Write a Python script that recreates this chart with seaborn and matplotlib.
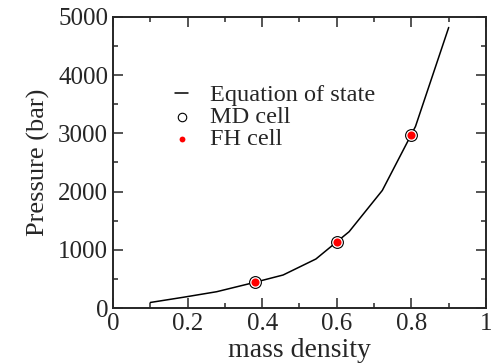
import matplotlib
matplotlib.use("Agg")
import matplotlib.pyplot as plt
import seaborn as sns
import pandas as pd
from matplotlib.ticker import MultipleLocator

# equation of state curve
eos_density = [0.100, 0.189, 0.278, 0.367, 0.456, 0.544, 0.633, 0.722, 0.811, 0.900]
eos_pressure = [95, 185, 280, 420, 567, 842, 1311, 2020, 3120, 4820]

# simulation cells
cell_density = [0.38, 0.60, 0.80]
md_pressure = [440, 1140, 2970]
fh_pressure = [440, 1140, 2970]

xticks = [0, 0.2, 0.4, 0.6, 0.8, 1.0]
xticklabels = ["0", "0.2", "0.4", "0.6", "0.8", "1"]
yticks = [0, 1000, 2000, 3000, 4000, 5000]
yticklabels = ["0", "1000", "2000", "3000", "4000", "5000"]


def main():
	sns.set_style("ticks")
	plt.rcParams['font.family'] = ['Liberation Serif', 'DejaVu Serif']

	eos = pd.DataFrame({'density': eos_density, 'pressure': eos_pressure})
	cells = pd.DataFrame({'density': cell_density, 'md': md_pressure, 'fh': fh_pressure})

	fig = plt.figure(figsize=(4.93, 3.63), dpi=100)
	ax = fig.add_axes([0.2292, 0.1515, 0.7566, 0.8017])

	sns.lineplot(data=eos, x='density', y='pressure', color='black', linewidth=1.1,
				 label='Equation of state', ax=ax)
	sns.scatterplot(data=cells, x='density', y='md', color='white', edgecolor='black',
					linewidth=0.8, s=72, label='MD cell', ax=ax, zorder=3)
	sns.scatterplot(data=cells, x='density', y='fh', color='red', linewidth=0,
					s=34, label='FH cell', ax=ax, zorder=4)

	ax.set_xlim(0, 1)
	ax.set_ylim(0, 5000)
	ax.set_xticks(xticks)
	ax.set_xticklabels(xticklabels)
	ax.set_yticks(yticks)
	ax.set_yticklabels(yticklabels)
	ax.xaxis.set_minor_locator(MultipleLocator(0.1))
	ax.yaxis.set_minor_locator(MultipleLocator(500))
	ax.tick_params(which='both', direction='in', top=True, right=True, width=1.1, labelsize=18)
	ax.tick_params(which='major', length=7)
	ax.tick_params(which='minor', length=3.5)
	for sp in ax.spines.values():
		sp.set_linewidth(1.4)
		sp.set_visible(True)

	ax.set_xlabel("mass density", fontsize=20, labelpad=2)
	ax.set_ylabel("Pressure (bar)", fontsize=19, labelpad=6)

	leg = ax.legend(loc='upper left', bbox_to_anchor=(175 / 493, 1 - 84 / 363),
					bbox_transform=fig.transFigure, frameon=False, fontsize=17.5,
					handlelength=0.55, handletextpad=0.9, labelspacing=0.0,
					borderpad=0, borderaxespad=0, markerscale=0.72)

	fig.savefig("out.png", dpi=100)


if __name__ == '__main__':
	main()
